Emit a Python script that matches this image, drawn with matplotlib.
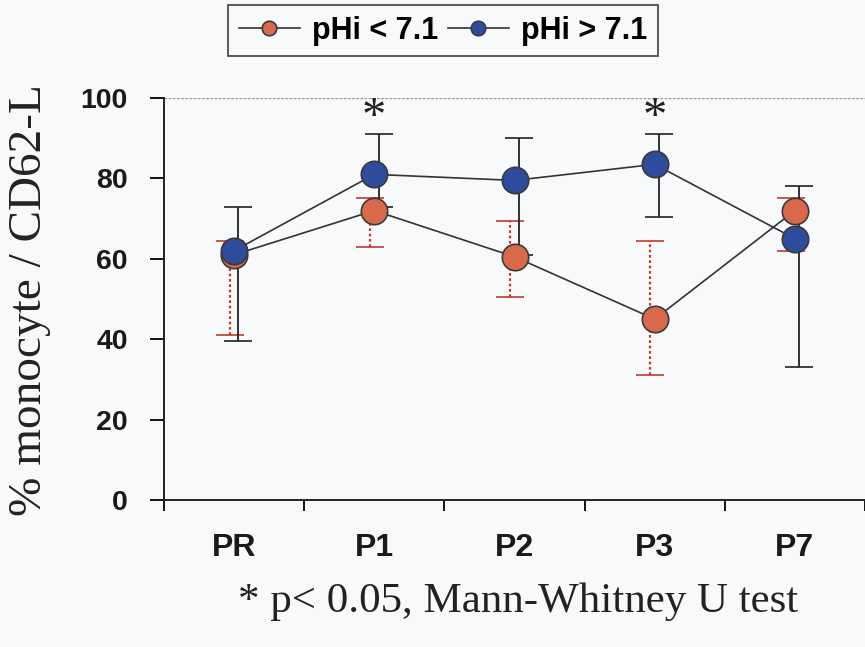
import matplotlib.pyplot as plt
import numpy as np

# data
categories = ["PR", "P1", "P2", "P3", "P7"]
low_ph = [61, 72, 60.5, 45, 72]
low_ph_hi = [64.5, 75, 69.5, 64.5, 75]
low_ph_lo = [41, 63, 50.5, 31, 62]
high_ph = [62, 81, 79.5, 83.5, 65]
high_ph_hi = [73, 91, 90, 91, 78]
high_ph_lo = [39.5, 73, 61, 70.5, 33]
star_idx = [1, 3]

RED = "#d9694b"
BLUE = "#2f4b9c"
EDGE = "#3a3a3a"
BG = "#f8f9fb"

fig = plt.figure(figsize=(8.65, 6.47), dpi=100, facecolor=BG)
ax = fig.add_axes([164 / 865, 147 / 647, 1 - 164 / 865, 402 / 647])
ax.set_facecolor(BG)

x = np.arange(len(categories))

# red group: dotted red error bars
lo = np.array(low_ph) - np.array(low_ph_lo)
hi = np.array(low_ph_hi) - np.array(low_ph)
eb = ax.errorbar(x - 0.03, low_ph, yerr=[lo, hi], fmt="none", ecolor="#c0392b",
                 elinewidth=1.6, capsize=10, capthick=1.2, zorder=2)
eb[2][0].set_linestyle((0, (1.2, 1.2)))

# blue group: solid black error bars
lo = np.array(high_ph) - np.array(high_ph_lo)
hi = np.array(high_ph_hi) - np.array(high_ph)
ax.errorbar(x + 0.03, high_ph, yerr=[lo, hi], fmt="none", ecolor="#222222",
            elinewidth=1.3, capsize=10, capthick=1.2, zorder=2)

ax.plot(x, low_ph, color="#333333", lw=1.2, marker="o", ms=19, mfc=RED,
        mec=EDGE, mew=1.2, label="pHi < 7.1", zorder=3)
ax.plot(x, high_ph, color="#333333", lw=1.2, marker="o", ms=19, mfc=BLUE,
        mec=EDGE, mew=1.2, label="pHi > 7.1", zorder=4)

for i in star_idx:
    ax.text(x[i], 89.5, "*", ha="center", va="bottom", fontsize=35,
            family="Liberation Serif", color="#222222")

ax.set_xlim(-0.5, 4.48)
ax.set_ylim(0, 100)
ax.axhline(100, color="#9a9a9a", lw=1, ls=(0, (2, 1)), zorder=1)

ax.set_yticks([0, 20, 40, 60, 80, 100])
ax.set_xticks(x)
ax.set_xticklabels(categories)
ax.set_xticks(np.arange(-0.5, 4.6, 1), minor=True)
ax.tick_params(axis="x", which="major", length=0, pad=24)
ax.tick_params(axis="x", which="minor", length=8, width=1.3, direction="out")
ax.tick_params(axis="y", length=10, width=1.3, direction="out", pad=16)
for lab in ax.get_xticklabels():
    lab.set_fontsize(23)
for lab in ax.get_yticklabels():
    lab.set_fontsize(20.5)
for lab in ax.get_xticklabels() + ax.get_yticklabels():
    lab.set_fontfamily("Liberation Sans")
    lab.set_fontweight("bold")
    lab.set_color("#1a1a1a")

for s in ["top", "right"]:
    ax.spines[s].set_visible(False)
for s in ["left", "bottom"]:
    ax.spines[s].set_linewidth(1.4)
    ax.spines[s].set_color("#222222")

fig.text(30 / 865, 1 - 300 / 647, "% monocyte / CD62-L", rotation=90,
         ha="center", va="center", fontsize=34, family="Liberation Serif",
         color="#222222")
fig.text(518 / 865, 1 - 602 / 647, "* p< 0.05, Mann-Whitney U test",
         ha="center", va="center", fontsize=31, family="Liberation Serif",
         color="#222222")

leg = fig.legend(loc="upper center", bbox_to_anchor=(443 / 865, 1 - 5 / 647),
                 ncol=2, frameon=True, fancybox=False, edgecolor="#222222",
                 prop={"family": "Liberation Sans", "weight": "bold", "size": 22},
                 handlelength=2.0, columnspacing=0.3, handletextpad=0.4,
                 borderpad=0.35, borderaxespad=0, markerscale=0.55)
leg.get_frame().set_linewidth(1.3)
leg.get_frame().set_facecolor(BG)

fig.savefig("out.png", dpi=100, facecolor=BG)
